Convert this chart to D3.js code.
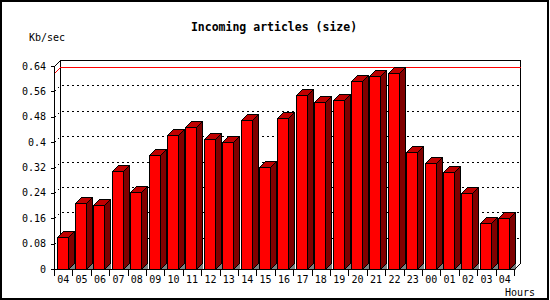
<!DOCTYPE html>
<html>
<head>
<meta charset="utf-8">
<script src="https://cdn.jsdelivr.net/npm/d3@7"></script>
<style>
  body { margin: 0; background: #fff; }
  text { font-family: "DejaVu Sans Mono", monospace; fill: #000; }
</style>
</head>
<body>
<svg id="chart" width="550" height="300"></svg>
<script>
// hours along the x axis (24h window, starting and ending at 04)
const hours = ['04','05','06','07','08','09','10','11','12','13','14','15','16',
  '17','18','19','20','21','22','23','00','01','02','03','04'];
// incoming article volume, Kb/sec
const kbps = [0.100, 0.207, 0.201, 0.310, 0.244, 0.358, 0.421, 0.447, 0.409, 0.399,
  0.469, 0.321, 0.475, 0.548, 0.526, 0.532, 0.593, 0.608, 0.617, 0.368,
  0.335, 0.307, 0.239, 0.144, 0.160];
const yTicks = [0, 0.08, 0.16, 0.24, 0.32, 0.4, 0.48, 0.56, 0.64];

const depth = 6;      // 3d offset
const barW = 11;

const svg = d3.select('#chart');

const x = d3.scaleBand()
  .domain(d3.range(hours.length))
  .range([54, 514])
  .paddingInner(0).paddingOuter(0);

const y = d3.scaleLinear()
  .domain([0, 0.64])
  .range([269, 66]);

const px = v => Math.round(v) + 0.5;
const x0 = px(x.range()[0]), x1 = px(x.range()[1]);
const yb = px(y(0));

// outer frame
svg.append('rect')
  .attr('x', 1).attr('y', 1)
  .attr('width', 547).attr('height', 298)
  .attr('fill', '#fff')
  .attr('stroke', '#000').attr('stroke-width', 2);

// title and axis names
svg.append('text')
  .attr('x', 274).attr('y', 31)
  .attr('text-anchor', 'middle')
  .style('font-size', '11.5px').style('font-weight', 'bold')
  .text('Incoming articles (size)');

svg.append('text')
  .attr('x', 29).attr('y', 41)
  .style('font-size', '10px')
  .text('Kb/sec');

svg.append('text')
  .attr('x', 505).attr('y', 296)
  .style('font-size', '10px')
  .text('Hours');

const g = svg.append('g').attr('shape-rendering', 'crispEdges');

// back wall
g.append('path')
  .attr('d', `M${x0 + depth},${yb - depth}V${px(y(0.64)) - depth}H${x1 + depth}V${yb - depth}`)
  .attr('fill', 'none').attr('stroke', '#000');

// dotted grid lines (side wall diagonal + back wall)
g.selectAll('.grid')
  .data(yTicks.filter(t => t > 0 && t < 0.64))
  .join('path')
  .attr('class', 'grid')
  .attr('d', t => `M${x0},${px(y(t))}L${x0 + depth},${px(y(t)) - depth}H${x1 + depth}`)
  .attr('fill', 'none')
  .attr('stroke', '#000')
  .attr('stroke-dasharray', '2,3');

// max line
const maxV = d3.max(kbps);
g.append('path')
  .attr('d', `M${x0},${px(y(maxV))}L${x0 + depth},${px(y(maxV)) - depth}H${x1 + depth}`)
  .attr('fill', 'none')
  .attr('stroke', '#ff0000');

// bars
const bars = g.selectAll('.bar')
  .data(kbps)
  .join('g')
  .attr('class', 'bar');

bars.each(function (v, i) {
  const b = d3.select(this);
  const l = px(x(i) + 2.6);
  const r = l + barW;
  const t = px(y(v));
  // floor shadow under the side face
  b.append('path')
    .attr('d', `M${r},${yb}L${r + depth},${yb - depth}V${yb}Z`)
    .attr('fill', '#808080');
  // side face
  b.append('path')
    .attr('d', `M${r},${yb}L${r},${t}L${r + depth},${t - depth}L${r + depth},${yb - depth}Z`)
    .attr('fill', '#800000').attr('stroke', '#000');
  // top face
  b.append('path')
    .attr('d', `M${l},${t}L${r},${t}L${r + depth},${t - depth}L${l + depth},${t - depth}Z`)
    .attr('fill', '#c00000').attr('stroke', '#000');
  // front face
  b.append('rect')
    .attr('x', l).attr('y', t)
    .attr('width', barW).attr('height', yb - t)
    .attr('fill', '#ff0000').attr('stroke', '#000');
});

// front y axis line with top diagonal
g.append('path')
  .attr('d', `M${x0},${yb}V${px(y(0.64))}L${x0 + depth},${px(y(0.64)) - depth}`)
  .attr('fill', 'none').attr('stroke', '#000');

// floor front edge and right edge
g.append('path')
  .attr('d', `M${x0},${yb}H${x1}L${x1 + depth},${yb - depth}`)
  .attr('fill', 'none').attr('stroke', '#000');

// y ticks and labels
g.selectAll('.ytick')
  .data(yTicks)
  .join('line')
  .attr('class', 'ytick')
  .attr('x1', x0 - 4).attr('x2', x0)
  .attr('y1', t => px(y(t))).attr('y2', t => px(y(t)))
  .attr('stroke', '#000');

svg.selectAll('.ylab')
  .data(yTicks)
  .join('text')
  .attr('class', 'ylab')
  .attr('x', 46).attr('y', t => y(t) + 3.5)
  .attr('text-anchor', 'end')
  .style('font-size', '10px')
  .text(t => d3.format('~g')(t));

// x ticks and labels
g.selectAll('.xtick')
  .data(d3.range(hours.length + 1))
  .join('line')
  .attr('class', 'xtick')
  .attr('x1', i => px(54 + i * x.step())).attr('x2', i => px(54 + i * x.step()))
  .attr('y1', yb).attr('y2', yb + 6)
  .attr('stroke', '#000');

svg.selectAll('.xlab')
  .data(hours)
  .join('text')
  .attr('class', 'xlab')
  .attr('x', (h, i) => x(i) + x.bandwidth() / 2)
  .attr('y', 283)
  .attr('text-anchor', 'middle')
  .style('font-size', '10px')
  .text(h => h);
</script>
</body>
</html>
